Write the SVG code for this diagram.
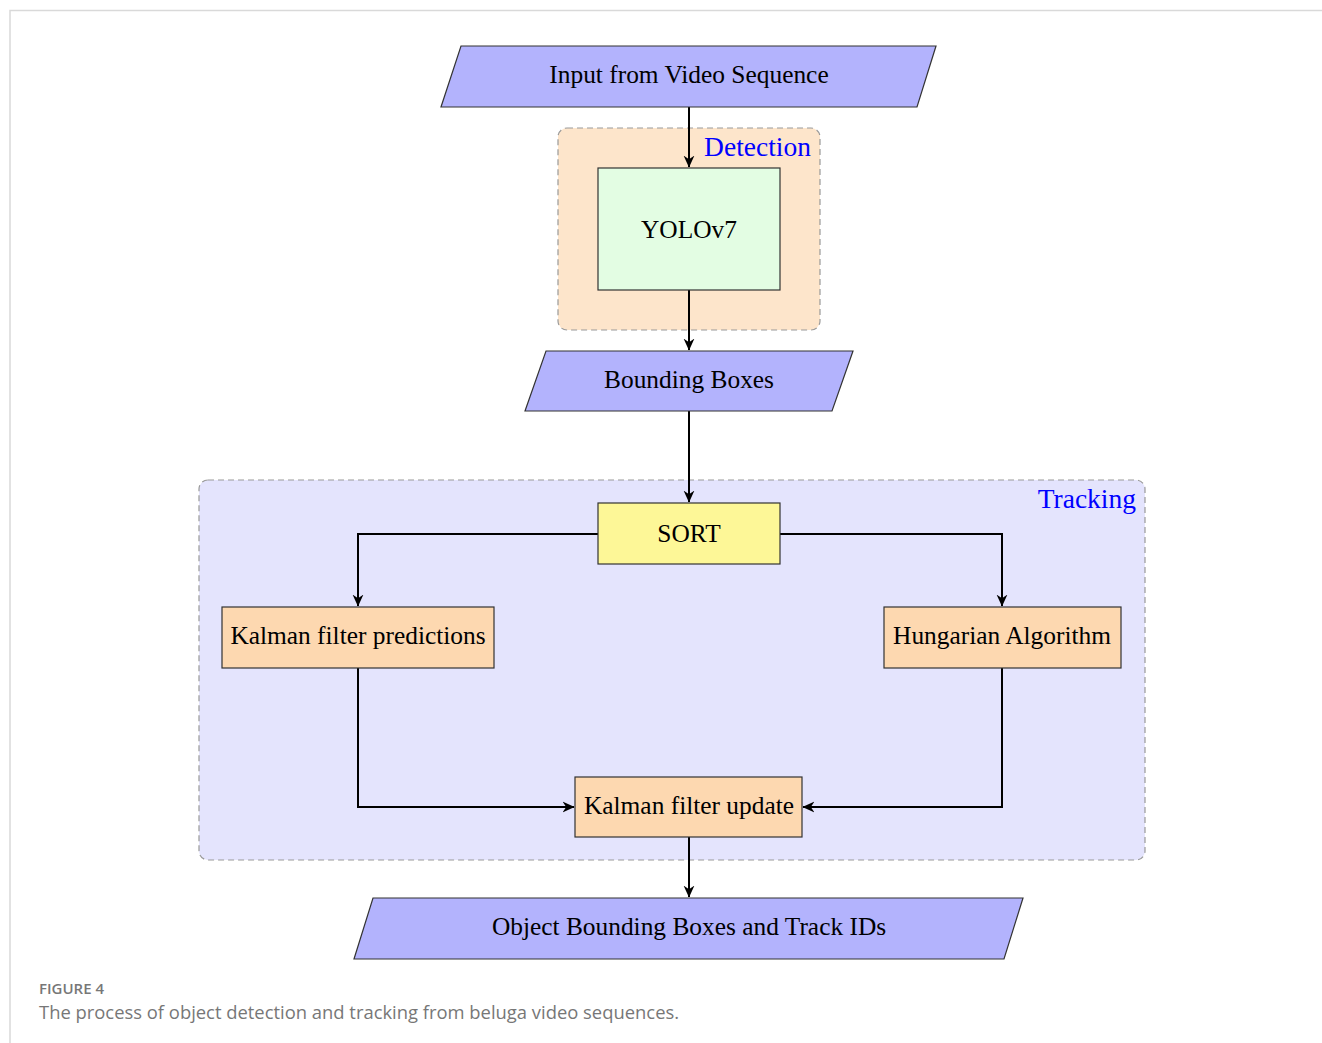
<svg xmlns="http://www.w3.org/2000/svg" width="1322" height="1043" viewBox="0 0 1322 1043">
<style>
.t{font-family:"Liberation Serif","Times New Roman",serif;font-size:25.4px;fill:#000;text-anchor:middle}
.lbl{font-family:"Liberation Serif","Times New Roman",serif;font-size:27.5px;fill:#0000ff;text-anchor:end}
.para{fill:#b3b3fd;stroke:#333;stroke-width:1.2}
.box{stroke:#333;stroke-width:1.2}
.grp{stroke:#999;stroke-width:1.2;stroke-dasharray:6 4}
.c{fill:none;stroke:#000;stroke-width:2}
</style>
<defs>
<marker id="ah" viewBox="0 0 10 10" refX="9.5" refY="5" markerWidth="12" markerHeight="12" markerUnits="userSpaceOnUse" orient="auto">
<path d="M0,0.5 L10,5 L0,9.5 L3,5 Z" fill="#000"/>
</marker>
</defs>
<rect width="1322" height="1043" fill="#fff"/>
<path d="M10,1043 V10.5 H1322" fill="none" stroke="#d9d9d9" stroke-width="1.5"/>
<g id="detection-group">
<rect class="grp" x="558" y="128" width="262" height="202" rx="9" fill="#fde5cb"/>
<text class="lbl" x="811" y="156">Detection</text>
</g>
<g id="tracking-group">
<rect class="grp" x="199" y="480" width="946" height="380" rx="9" fill="#e4e4fd"/>
<text class="lbl" x="1136" y="508">Tracking</text>
</g>
<g id="connectors">
<path class="c" d="M689,107 V167" marker-end="url(#ah)"/>
<path class="c" d="M689,290 V350" marker-end="url(#ah)"/>
<path class="c" d="M689,411 V502" marker-end="url(#ah)"/>
<path class="c" d="M598,534 H358 V606" marker-end="url(#ah)"/>
<path class="c" d="M780,534 H1002 V606" marker-end="url(#ah)"/>
<path class="c" d="M358,668 V807 H574" marker-end="url(#ah)"/>
<path class="c" d="M1002,668 V807 H803" marker-end="url(#ah)"/>
<path class="c" d="M689,837 V897" marker-end="url(#ah)"/>
</g>
<g id="input">
<polygon class="para" points="461,46 936,46 917,107 441,107"/>
<text class="t" x="689" y="83">Input from Video Sequence</text>
</g>
<g id="yolo">
<rect class="box" x="598" y="168" width="182" height="122" fill="#e3fde3"/>
<text class="t" x="689" y="238">YOLOv7</text>
</g>
<g id="bboxes">
<polygon class="para" points="546,351 853,351 832,411 525,411"/>
<text class="t" x="689" y="388">Bounding Boxes</text>
</g>
<g id="sort">
<rect class="box" x="598" y="503" width="182" height="61" fill="#fdf797"/>
<text class="t" x="689" y="542">SORT</text>
</g>
<g id="kalman-pred">
<rect class="box" x="222" y="607" width="272" height="61" fill="#fdd8b0"/>
<text class="t" x="358" y="644">Kalman filter predictions</text>
</g>
<g id="hungarian">
<rect class="box" x="884" y="607" width="237" height="61" fill="#fdd8b0"/>
<text class="t" x="1002" y="644">Hungarian Algorithm</text>
</g>
<g id="kalman-update">
<rect class="box" x="575" y="777" width="227" height="60" fill="#fdd8b0"/>
<text class="t" x="689" y="814">Kalman filter update</text>
</g>
<g id="output">
<polygon class="para" points="373,898 1023,898 1004,959 354,959"/>
<text class="t" x="689" y="935">Object Bounding Boxes and Track IDs</text>
</g>
<g id="caption">
<text x="39" y="994" font-family="'Open Sans','Noto Sans',sans-serif" font-size="15" font-weight="600" fill="#777">FIGURE 4</text>
<text x="39" y="1019" font-family="'Open Sans','Noto Sans',sans-serif" font-size="18.4" fill="#777">The process of object detection and tracking from beluga video sequences.</text>
</g>
</svg>
